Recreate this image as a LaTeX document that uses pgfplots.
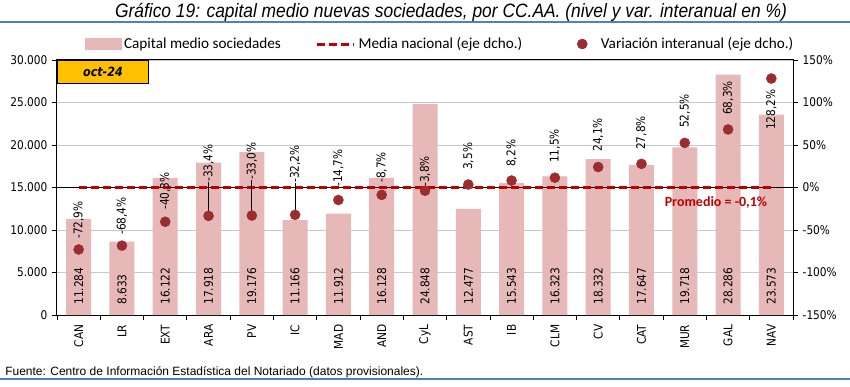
\documentclass[border=0pt]{standalone}
\usepackage{fontspec}
\usepackage{pgfplots}
\pgfplotsset{compat=1.18}
\setmainfont{Liberation Sans}
\newfontfamily\numfont[FakeStretch=0.88]{DejaVu Sans}
\newfontfamily\legfont{Carlito}
\newfontfamily\titlefont[FakeStretch=0.9]{Liberation Sans}
\definecolor{barpink}{HTML}{E6B9B8}
\definecolor{dotred}{RGB}{155,45,48}
\definecolor{dashred}{HTML}{C00000}
\definecolor{gold}{HTML}{FFC000}
\definecolor{titleblue}{HTML}{4F81BD}
\definecolor{gridgray}{HTML}{C8C8C8}
\pgfplotsset{
  dashleg/.style={legend image code/.code={\draw[##1] (0pt,0pt) -- (28pt,0pt);}},
  barleg/.style={legend image code/.code={\fill[barpink] (0pt,-4pt) rectangle (27pt,4pt);}},
  dotleg/.style={legend image code/.code={\path[draw=none, fill=none] (-3.75pt,0pt) rectangle (12pt,0.1pt); \fill[dotred] (0pt,0pt) circle[radius=3.75pt];}},
}
\begin{document}
\begin{tikzpicture}[x=0.75pt,y=0.75pt]
\useasboundingbox (0,0) rectangle (850,386);
% title and rules
\node[font=\titlefont\itshape\fontsize{14.5}{16}\selectfont, anchor=center, inner sep=0pt] at (451,374) {Gráfico 19: capital medio nuevas sociedades, por CC.AA. (nivel y var. interanual en \%)};
\draw[titleblue, line width=1.2pt] (0,364) -- (850,364);
\draw[titleblue, line width=1pt] (0,7) -- (850,7);
\node[font=\fontsize{9}{10}\selectfont, anchor=west, inner sep=0pt] at (5,13.5) {Fuente: Centro de Información Estadística del Notariado (datos provisionales).};

\begin{axis}[
  at={(42.75pt,53.25pt)}, anchor=south west,
  scale only axis, width=552pt, height=191.25pt,
  xmin=-0.5, xmax=16.5, ymin=0, ymax=30000,
  ytick={0,5000,...,30000},
  xtick={0,...,16},
  xticklabels={CAN,LR,EXT,ARA,PV,IC,MAD,AND,CyL,AST,IB,CLM,CV,CAT,MUR,GAL,NAV},
  major x tick style={draw=none},
  minor xtick={-0.5,0.5,...,16.5},
  minor tick length=3.75pt,
  major tick length=3.75pt,
  tick align=outside,
  xtick pos=bottom, ytick pos=left,
  tick style={black, line width=0.6pt},
  minor tick style={black, line width=0.6pt},
  axis line style={black, line width=0.75pt},
  ymajorgrids, major grid style={gridgray, line width=0.6pt},
  scaled y ticks=false,
  /pgf/number format/assume math mode=true,
  yticklabel style={font=\numfont\fontsize{9}{10}\selectfont, /pgf/number format/1000 sep={.}},
  xticklabel style={rotate=90, anchor=east, font=\numfont\fontsize{9}{10}\selectfont},
]
\addplot[ybar, bar width=18.75pt, fill=barpink, draw=none] table[x=x, y=y] {
x y
0 11284
1 8633
2 16122
3 17918
4 19176
5 11166
6 11912
7 16128
8 24848
9 12477
10 15543
11 16323
12 18332
13 17647
14 19718
15 28286
16 23573
};
\addplot[draw=none, mark=none, nodes near coords={\pgfplotspointmeta}, point meta=explicit symbolic,
  nodes near coords style={rotate=90, anchor=west, inner sep=0pt, font=\numfont\fontsize{9}{10}\selectfont}]
  table[x=x, y=y, meta=lab] {
x y lab
0 1180 11.284
1 1180 8.633
2 1180 16.122
3 1180 17.918
4 1180 19.176
5 1180 11.166
6 1180 11.912
7 1180 16.128
8 1180 24.848
9 1180 12.477
10 1180 15.543
11 1180 16.323
12 1180 18.332
13 1180 17.647
14 1180 19.718
15 1180 28.286
16 1180 23.573
};
\node[fill=gold, draw=black, line width=0.75pt, anchor=north west, minimum width=68.25pt, minimum height=17.25pt, inner sep=0pt, font=\numfont\bfseries\itshape\fontsize{9.5}{10}\selectfont] at (rel axis cs:0,1) {oct-24};
\end{axis}

\begin{axis}[
  at={(42.75pt,53.25pt)}, anchor=south west,
  scale only axis, width=552pt, height=191.25pt,
  xmin=-0.5, xmax=16.5, ymin=-150, ymax=150,
  axis x line=none, axis y line*=right,
  ytick={-150,-100,...,150},
  yticklabel={\pgfmathprintnumber{\tick}\%},
  /pgf/number format/assume math mode=true,
  yticklabel style={font=\numfont\fontsize{9}{10}\selectfont},
  major tick length=3.75pt, tick align=outside,
  tick style={black, line width=0.6pt},
  axis line style={black, line width=0.75pt},
  extra y ticks={0}, extra y tick labels={},
  extra y tick style={grid=major, major grid style={black, line width=0.75pt}, major tick length=0pt},
  legend style={at={(0.5210,1.0627)}, anchor=center, draw=none, fill=none,
    legend columns=3, font=\legfont\fontsize{11.4}{13}\selectfont,
    /tikz/column 2/.style={column sep=24pt},
    /tikz/column 4/.style={column sep=39pt}},
]
\addlegendimage{barleg}
\addlegendentry{Capital medio sociedades}
% percentage labels
\addplot[draw=none, mark=none, forget plot, nodes near coords={\pgfplotspointmeta\%}, point meta=explicit symbolic,
  nodes near coords style={rotate=90, anchor=west, inner sep=0pt, font=\numfont\fontsize{9}{10}\selectfont}]
  table[x=x, y=y, meta=lab] {
x y lab
0 -60.6 -72,9
1 -55.9 -68,4
2 -26.5 -40,3
3 6.5 -33,4
4 8.8 -33,0
5 5.3 -32,2
6 0.6 -14,7
7 5.3 -8,7
8 0.6 -3,8
9 20.6 3,5
10 24.1 8,2
11 28.8 11,5
12 41.8 24,1
13 44.1 27,8
14 70.0 52,5
15 85.3 68,3
16 67.6 128,2
};
\addplot[dashred, line width=2.25pt, dash pattern=on 6pt off 3pt, mark=none, dashleg] coordinates {(0,-0.1) (16,-0.1)};
\addlegendentry{Media nacional (eje dcho.)}
% leader lines
\addplot[black, line width=0.6pt, mark=none, forget plot] coordinates {(3,6.5) (3,-33.4)};
\addplot[black, line width=0.6pt, mark=none, forget plot] coordinates {(4,8.8) (4,-33.0)};
\addplot[black, line width=0.6pt, mark=none, forget plot] coordinates {(5,5.3) (5,-32.2)};
\addplot[only marks, mark=*, mark size=3.75pt, color=dotred, mark options={fill=dotred, draw=dotred}, dotleg] table[x=x, y=y] {
x y
0 -72.9
1 -68.4
2 -40.3
3 -33.4
4 -33.0
5 -32.2
6 -14.7
7 -8.7
8 -3.8
9 3.5
10 8.2
11 11.5
12 24.1
13 27.8
14 52.5
15 68.3
16 128.2
};
\addlegendentry{Variación interanual (eje dcho.)}
\node[font=\legfont\bfseries\fontsize{10.5}{12}\selectfont, text=dashred, inner sep=0pt] at (axis cs:14.72,-18.2) {Promedio = -0,1\%};
\end{axis}
\end{tikzpicture}
\end{document}
